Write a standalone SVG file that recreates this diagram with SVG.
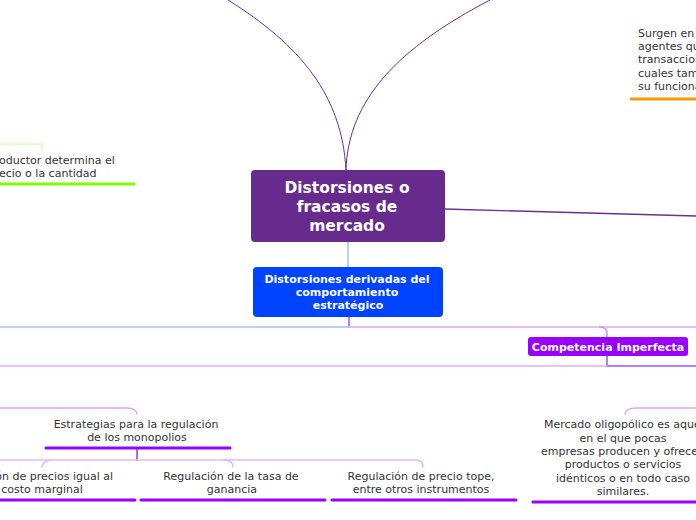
<svg xmlns="http://www.w3.org/2000/svg" width="696" height="520" viewBox="0 0 696 520">
<style>
.t{font-family:"DejaVu Sans","Verdana",sans-serif;font-size:11px;fill:#333333}
.c{text-anchor:middle}
.w{font-family:"DejaVu Sans","Verdana",sans-serif;font-weight:bold;fill:#ffffff;text-anchor:middle}
.ln{fill:none;stroke-linecap:round}
.ul{stroke:#9900ff;stroke-width:3;stroke-linecap:round}
</style>
<rect width="696" height="520" fill="#ffffff"/>
<g id="connectors">
  <path class="ln" d="M346,170 C342,95 300,45 228,0" stroke="#6a2e9a" stroke-width="1"/>
  <path class="ln" d="M346,170 C348,100 398,48 490,0" stroke="#6a2e9a" stroke-width="1"/>
  <path class="ln" d="M445,209 L696,216" stroke="#6a2e9a" stroke-width="1.3"/>
  <path class="ln" d="M348,241 L348,267" stroke="#6f9cff" stroke-width="1"/>
  <path class="ln" d="M349,317 L349,327" stroke="#a050f0" stroke-width="1.5"/>
  <path class="ln" d="M0,327 L349,327" stroke="#a8bdf8" stroke-width="1.5"/>
  <path class="ln" d="M349,327 L696,327" stroke="#d8a8f8" stroke-width="1.5"/>
  <path class="ln" d="M600,327 Q607,327 607,334 L607,337" stroke="#c990f8" stroke-width="1.5"/>
  <path class="ln" d="M607,356 L607,366 L696,366" stroke="#a050f0" stroke-width="1.5"/>
  <path class="ln" d="M0,366 L607,366" stroke="#e2adff" stroke-width="1.5"/>
  <path class="ln" d="M0,408 L128,408 Q137,409 137,414" stroke="#d8a8f8" stroke-width="1.5"/>
  <path class="ln" d="M625,414 Q626,408 636,408 L696,408" stroke="#d8a8f8" stroke-width="1.5"/>
  <path class="ln" d="M137,448 L137,460" stroke="#9b30ff" stroke-width="1.5"/>
  <path class="ln" d="M0,460 L416,460 Q423,460 423,467" stroke="#e2b8ff" stroke-width="1.5"/>
  <path class="ln" d="M42,467 Q43,460 52,460" stroke="#e2b8ff" stroke-width="1.5"/>
  <path class="ln" d="M224,460 Q233,460 233,467" stroke="#e2b8ff" stroke-width="1.5"/>
  <path class="ln" d="M0,144 L42,144 L42,150" stroke="#c4ff88" stroke-width="1"/>
</g>
<g id="main">
  <rect x="251" y="170" width="194" height="72" rx="4" fill="#672b8e"/>
  <text class="w" font-size="15.5" x="347" y="193">Distorsiones o</text>
  <text class="w" font-size="15.5" x="347" y="212">fracasos de</text>
  <text class="w" font-size="15.5" x="347" y="231">mercado</text>
</g>
<g id="strategic">
  <rect x="253" y="267" width="190" height="50" rx="4" fill="#0044ff"/>
  <text class="w" font-size="11" x="347" y="283">Distorsiones derivadas del</text>
  <text class="w" font-size="11" x="347" y="296">comportamiento</text>
  <text class="w" font-size="11" x="348" y="309">estratégico</text>
</g>
<g id="competencia">
  <rect x="528" y="337" width="160" height="19" rx="3" fill="#9900ff"/>
  <text class="w" font-size="11" x="608" y="351">Competencia Imperfecta</text>
</g>
<g id="productor">
  <text class="t" x="-1" y="164">oductor determina el</text>
  <text class="t" x="-1" y="177">ecio o la cantidad</text>
  <line x1="0" y1="184" x2="134" y2="184" stroke="#80ff00" stroke-width="3" stroke-linecap="round"/>
</g>
<g id="surgen">
  <text class="t" x="638" y="37">Surgen en</text>
  <text class="t" x="638" y="50">agentes qu</text>
  <text class="t" x="638" y="63">transaccion</text>
  <text class="t" x="638" y="77">cuales tam</text>
  <text class="t" x="638" y="90">su funciona</text>
  <line x1="631" y1="99" x2="700" y2="99" stroke="#ff9900" stroke-width="3" stroke-linecap="round"/>
</g>
<g id="estrategias">
  <text class="t c" x="136" y="428">Estrategias para la regulación</text>
  <text class="t c" x="137" y="441">de los monopolios</text>
  <line class="ul" x1="46" y1="448" x2="230" y2="448"/>
</g>
<g id="fijacion">
  <text class="t" x="113" y="480" text-anchor="end">ón de precios igual al</text>
  <text class="t c" x="42" y="493">costo marginal</text>
  <line class="ul" x1="-10" y1="500" x2="135" y2="500"/>
</g>
<g id="tasa">
  <text class="t c" x="231" y="480">Regulación de la tasa de</text>
  <text class="t c" x="232" y="493">ganancia</text>
  <line class="ul" x1="141" y1="500" x2="325" y2="500"/>
</g>
<g id="tope">
  <text class="t c" x="421" y="480">Regulación de precio tope,</text>
  <text class="t c" x="421" y="493">entre otros instrumentos</text>
  <line class="ul" x1="332" y1="500" x2="516" y2="500"/>
</g>
<g id="oligopolico">
  <text class="t" x="544" y="428">Mercado oligopólico es aque</text>
  <text class="t c" x="623" y="442">en el que pocas</text>
  <text class="t" x="541" y="455">empresas producen y ofrece</text>
  <text class="t c" x="623" y="468">productos o servicios</text>
  <text class="t c" x="623" y="482">idénticos o en todo caso</text>
  <text class="t c" x="623" y="495">similares.</text>
  <line class="ul" x1="533" y1="502" x2="700" y2="502"/>
</g>
</svg>
